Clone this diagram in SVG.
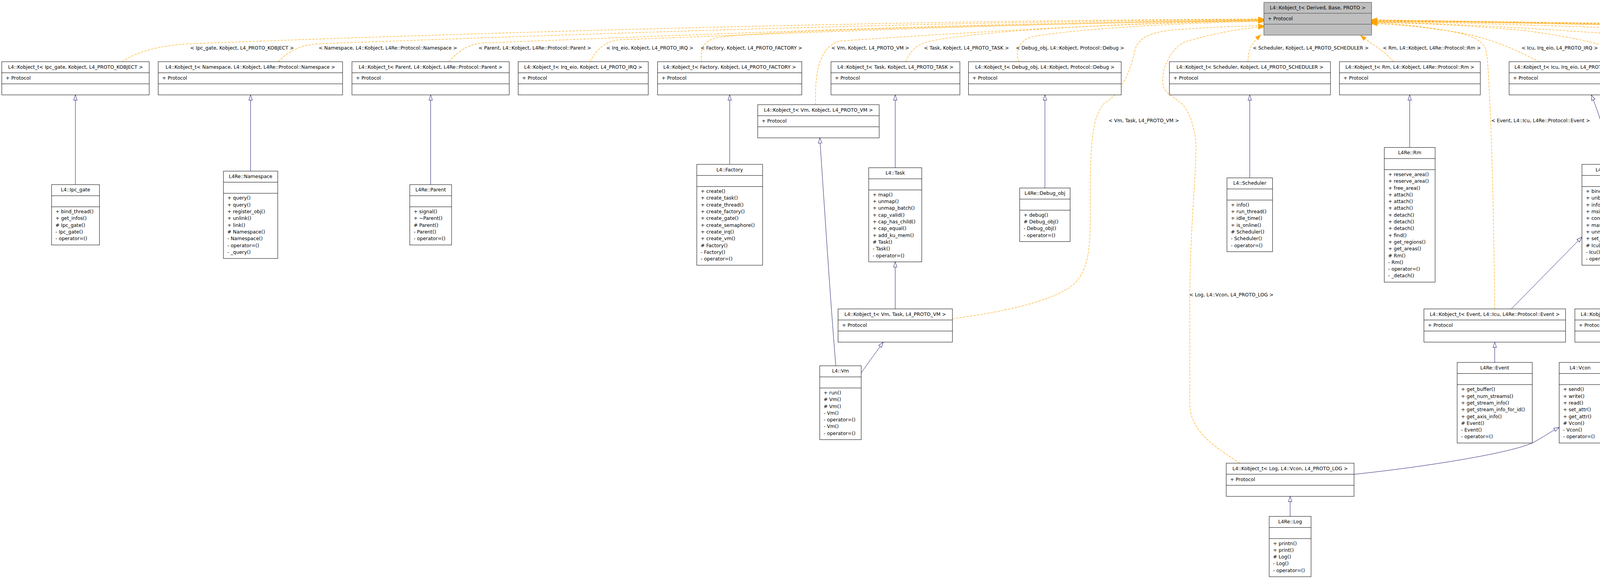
<svg xmlns="http://www.w3.org/2000/svg" width="7088" height="1480" viewBox="0 0 7088 1480">
<defs>
<style>
text{font-family:"DejaVu Sans","Liberation Sans",sans-serif;font-size:12.35px;fill:#000}
.c{text-anchor:middle}
.n rect{fill:#fff;stroke:#000;stroke-width:1}
.n path{fill:none;stroke:#000;stroke-width:1}
#root rect{fill:#bfbfbf;stroke:#404040}
#root path{stroke:#404040}
.i{fill:none;stroke:#191970;stroke-width:1;marker-end:url(#ah)}
.d{fill:none;stroke:#ffa500;stroke-width:1.1;stroke-dasharray:6,3;marker-end:url(#ao)}
</style>
<marker id="ah" markerWidth="16" markerHeight="12" refX="14" refY="5.5" orient="auto" markerUnits="userSpaceOnUse" overflow="visible"><path d="M0.5,1 L14,5.5 L0.5,10 Z" fill="#fff" stroke="#191970" stroke-width="1"/></marker>
<marker id="ao" markerWidth="16" markerHeight="12" refX="14" refY="5.5" orient="auto" markerUnits="userSpaceOnUse" overflow="visible"><path d="M0,0.5 L14,5.5 L0,10.5 Z" fill="#ffa500" stroke="#ffa500" stroke-width="1"/></marker>
</defs>
<rect width="7088" height="1480" fill="#fff"/>
<g id="connectors">
<path class="i" d="M193,472.75 L193,243"/>
<path class="i" d="M641.5,438.15 L641.5,243"/>
<path class="i" d="M1102.5,472.75 L1102.5,243"/>
<path class="i" d="M1868,420.85 L1868,243"/>
<path class="i" d="M2291.8,429.5 L2291.8,243"/>
<path class="i" d="M2675,481.4 L2675,243"/>
<path class="i" d="M3199.4,455.45 L3199.4,243"/>
<path class="i" d="M3608.8,377.6 L3608.8,243"/>
<path class="i" d="M4115.9,420.85 C4115,370 4105,320 4073.8,243"/>
<path class="i" d="M4356.2,464.1 L4356.2,243"/>
<path class="i" d="M4774.25,386.25 L4774.25,243"/>
<path class="i" d="M5229.1,455.45 L5229.1,243"/>
<path class="i" d="M5682.2,472.75 L5682.2,243"/>
<path class="i" d="M6116.1,394.9 L6116.1,243"/>
<path class="i" d="M6473.9,429.5 L6473.9,243"/>
<path class="i" d="M6891,420.85 L6891,243"/>
<path class="i" d="M2139.7,936.65 C2125,760 2110,520 2098.6,353"/>
<path class="i" d="M2291.8,791 L2291.8,670.5"/>
<path class="i" d="M2204.7,954.6 L2261,876"/>
<path class="i" d="M3869,791 L4049.8,606.8"/>
<path class="i" d="M4169.4,791 L4142.6,679.2"/>
<path class="i" d="M3826.5,928 L3826.5,876"/>
<path class="i" d="M4098.6,952.7 L4152.2,876"/>
<path class="i" d="M3466.3,1214.6 C3650,1195 3870,1160 3925,1133 C3950,1120 3970,1105 3991.5,1094.5"/>
<path class="i" d="M3302.7,1322.25 L3302.7,1271"/>

<path class="d" d="M313,158 C350,132 410,116 488,112 C1037,91 2136,53 3235.5,48.5"/>
<path class="d" d="M712,158 C740,130 770,115 815,112 C1300,95 2300,55 3235.5,49.5"/>
<path class="d" d="M1149,158 C1175,130 1195,115 1235,110 C1650,95 2450,58 3235.5,50.5"/>
<path class="d" d="M1510.7,158 C1525,130 1545,108 1582,102 C1950,88 2650,58 3235.5,51.5"/>
<path class="d" d="M1796,158 C1792,125 1800,103 1840,96 C1950,78 2600,62 3235.5,52.5"/>
<path class="d" d="M2088,268 C2085,180 2100,118 2150,105 C2350,92 2800,60 3235.5,53"/>
<path class="d" d="M2319,158 C2330,128 2350,112 2380,106 C2480,82 2850,58 3235.5,53.5"/>
<path class="d" d="M2609.5,158 C2598,140 2605,105 2640,95 C2700,82 2900,62 3235.5,54.5"/>
<path class="d" d="M2438.2,816 C2560,800 2680,775 2740,735 C2800,690 2790,600 2791,480 C2792,380 2795,290 2830,262 C2870,240 2895,180 2905,130 C2912,100 2940,85 2990,78 C3080,70 3160,67 3235.5,66"/>
<path class="d" d="M3173.5,1186 C3120,1150 3050,1110 3046,1040 L3046,760 C3046,600 3062,450 3061.6,378 C3061,320 3040,280 3025,265 C3000,245 2978,235 2977,215 C2976,190 2980,170 2987,160 C3000,130 3020,110 3044,104 C3110,85 3180,72 3235.5,69"/>
<path class="d" d="M3194.6,158 C3196,130 3200,115 3227.5,89"/>
<path class="d" d="M3566.7,158 C3545,130 3510,112 3483,91"/>
<path class="d" d="M3826.5,791 C3825,650 3822,450 3815,283 C3810,180 3808,130 3800,118 C3785,98 3760,88 3700,78 C3620,66 3560,62 3511.3,60.5"/>
<path class="d" d="M3940,158 C3900,138 3850,110 3760,88 C3650,68 3580,60 3511.3,58.5"/>
<path class="d" d="M4238.7,158 C4180,138 4080,100 3900,78 C3750,64 3600,58 3511.3,57.5"/>
<path class="d" d="M4612,158 C4570,145 4480,118 4392,108 C4100,82 3750,60 3511.3,56.5"/>
<path class="d" d="M5077.5,158 C5000,140 4880,108 4760,100 C4300,75 3800,58 3511.3,55.5"/>
<path class="d" d="M5508.7,158 C5420,135 5300,100 5150,92 C4500,70 3900,56 3511.3,54.5"/>
<path class="d" d="M5956.5,158 C5900,140 5780,116 5700,110 C5300,90 4200,62 3511.3,53.5"/>
<path class="d" d="M6319.5,158 C6270,135 6180,118 6100,110 C5800,92 4400,64 3511.3,52.5"/>
<path class="d" d="M6801.8,158 C6770,140 6720,118 6673,110 C6620,103 6500,95 6320,93 C5800,85 4400,62 3511.3,51.5"/>
<path class="d" d="M4329.9,830 C4900,815 5500,800 6066,784.5 C6300,770 6480,745 6525.5,728 C6560,712 6575,690 6583,662 C6610,600 6628,560 6631,520 C6640,420 6650,330 6650,284 C6650,220 6645,170 6630,150 C6615,128 6600,116 6570,112 C6540,109 6500,114 6452,115 C6420,115 6350,108 6231,100 C5600,85 4300,62 3511.3,50.5"/>

<text x="487" y="127">&lt; Ipc_gate, Kobject, L4_PROTO_KOBJECT &gt;</text>
<text x="815.7" y="127">&lt; Namespace, L4::Kobject, L4Re::Protocol::Namespace &gt;</text>
<text x="1225" y="127">&lt; Parent, L4::Kobject, L4Re::Protocol::Parent &gt;</text>
<text x="1552.3" y="127">&lt; Irq_eio, Kobject, L4_PROTO_IRQ &gt;</text>
<text x="1793.4" y="127">&lt; Factory, Kobject, L4_PROTO_FACTORY &gt;</text>
<text x="2128.2" y="127">&lt; Vm, Kobject, L4_PROTO_VM &gt;</text>
<text x="2365.5" y="127">&lt; Task, Kobject, L4_PROTO_TASK &gt;</text>
<text x="2600.8" y="127">&lt; Debug_obj, L4::Kobject, Protocol::Debug &gt;</text>
<text x="3207" y="127">&lt; Scheduler, Kobject, L4_PROTO_SCHEDULER &gt;</text>
<text x="3540" y="127">&lt; Rm, L4::Kobject, L4Re::Protocol::Rm &gt;</text>
<text x="3895" y="127">&lt; Icu, Irq_eio, L4_PROTO_IRQ &gt;</text>
<text x="4171" y="127">&lt; Meta, Kobject, L4_PROTO_META &gt;</text>
<text x="4511.6" y="127">&lt; Dataspace, L4::Kobject, L4Re::Protocol::Dataspace &gt;</text>
<text x="4970.8" y="127">&lt; Debugger, Kobject, L4_PROTO_DEBUGGER &gt;</text>
<text x="5390.8" y="127">&lt; Mem_alloc, L4::Kobject, L4Re::Protocol::Mem_alloc &gt;</text>
<text x="5851" y="127">&lt; Thread, Kobject, L4_PROTO_THREAD &gt;</text>
<text x="6224.2" y="127">&lt; Irq, Irq_eio, L4_PROTO_IRQ &gt;</text>
<text x="6738.9" y="127">&lt; Goos, L4::Kobject, L4Re::Protocol::Goos &gt;</text>
<text x="2837.8" y="313">&lt; Vm, Task, L4_PROTO_VM &gt;</text>
<text x="3817.4" y="313">&lt; Event, L4::Icu, L4Re::Protocol::Event &gt;</text>
<text x="6649.9" y="313">&lt; Vcon, Icu, L4_PROTO_LOG &gt;</text>
<text x="3044.4" y="759">&lt; Log, L4::Vcon, L4_PROTO_LOG &gt;</text>
</g>

<g id="root" class="n"><rect x="3235.5" y="6" width="275.8" height="84"/><path d="M3235.5,34H3511.3M3235.5,62H3511.3"/><text class="c" x="3373.4" y="23.5">L4::Kobject_t&lt; Derived, Base, PROTO &gt;</text><text x="3245.5" y="51.7">+ Protocol</text></g>

<g id="t_ipc" class="n"><rect x="4.6" y="158" width="377.4" height="85"/><path d="M4.6,186.33H382M4.6,214.67H382"/><text class="c" x="193.3" y="175.5">L4::Kobject_t&lt; Ipc_gate, Kobject, L4_PROTO_KOBJECT &gt;</text><text x="14.6" y="204">+ Protocol</text></g>
<g id="t_ns" class="n"><rect x="405" y="158" width="472" height="85"/><path d="M405,186.33H877M405,214.67H877"/><text class="c" x="641" y="175.5">L4::Kobject_t&lt; Namespace, L4::Kobject, L4Re::Protocol::Namespace &gt;</text><text x="415" y="204">+ Protocol</text></g>
<g id="t_parent" class="n"><rect x="901" y="158" width="402.6" height="85"/><path d="M901,186.33H1303.6M901,214.67H1303.6"/><text class="c" x="1102.3" y="175.5">L4::Kobject_t&lt; Parent, L4::Kobject, L4Re::Protocol::Parent &gt;</text><text x="911" y="204">+ Protocol</text></g>
<g id="t_irqeio" class="n"><rect x="1326.5" y="158" width="333" height="85"/><path d="M1326.5,186.33H1659.5M1326.5,214.67H1659.5"/><text class="c" x="1493" y="175.5">L4::Kobject_t&lt; Irq_eio, Kobject, L4_PROTO_IRQ &gt;</text><text x="1336.5" y="204">+ Protocol</text></g>
<g id="t_factory" class="n"><rect x="1683.4" y="158" width="369.2" height="85"/><path d="M1683.4,186.33H2052.6M1683.4,214.67H2052.6"/><text class="c" x="1868" y="175.5">L4::Kobject_t&lt; Factory, Kobject, L4_PROTO_FACTORY &gt;</text><text x="1693.4" y="204">+ Protocol</text></g>
<g id="t_task" class="n"><rect x="2127.3" y="158" width="330" height="85"/><path d="M2127.3,186.33H2457.3M2127.3,214.67H2457.3"/><text class="c" x="2292.3" y="175.5">L4::Kobject_t&lt; Task, Kobject, L4_PROTO_TASK &gt;</text><text x="2137.3" y="204">+ Protocol</text></g>
<g id="t_debug" class="n"><rect x="2479.3" y="158" width="391" height="85"/><path d="M2479.3,186.33H2870.3M2479.3,214.67H2870.3"/><text class="c" x="2674.8" y="175.5">L4::Kobject_t&lt; Debug_obj, L4::Kobject, Protocol::Debug &gt;</text><text x="2489.3" y="204">+ Protocol</text></g>
<g id="t_sched" class="n"><rect x="2993.7" y="158" width="412.3" height="85"/><path d="M2993.7,186.33H3406M2993.7,214.67H3406"/><text class="c" x="3199.9" y="175.5">L4::Kobject_t&lt; Scheduler, Kobject, L4_PROTO_SCHEDULER &gt;</text><text x="3003.7" y="204">+ Protocol</text></g>
<g id="t_rm" class="n"><rect x="3429" y="158" width="360.6" height="85"/><path d="M3429,186.33H3789.6M3429,214.67H3789.6"/><text class="c" x="3609.3" y="175.5">L4::Kobject_t&lt; Rm, L4::Kobject, L4Re::Protocol::Rm &gt;</text><text x="3439" y="204">+ Protocol</text></g>
<g id="t_icu" class="n"><rect x="3863.3" y="158" width="302.3" height="85"/><path d="M3863.3,186.33H4165.6M3863.3,214.67H4165.6"/><text class="c" x="4014.5" y="175.5">L4::Kobject_t&lt; Icu, Irq_eio, L4_PROTO_IRQ &gt;</text><text x="3873.3" y="204">+ Protocol</text></g>
<g id="t_meta" class="n"><rect x="4188.3" y="158" width="334.8" height="85"/><path d="M4188.3,186.33H4523.1M4188.3,214.67H4523.1"/><text class="c" x="4355.7" y="175.5">L4::Kobject_t&lt; Meta, Kobject, L4_PROTO_META &gt;</text><text x="4198.3" y="204">+ Protocol</text></g>
<g id="t_ds" class="n"><rect x="4546" y="158" width="457.3" height="85"/><path d="M4546,186.33H5003.3M4546,214.67H5003.3"/><text class="c" x="4774.7" y="175.5">L4::Kobject_t&lt; Dataspace, L4::Kobject, L4Re::Protocol::Dataspace &gt;</text><text x="4556" y="204">+ Protocol</text></g>
<g id="t_dbg" class="n"><rect x="5027.3" y="158" width="404.6" height="85"/><path d="M5027.3,186.33H5431.9M5027.3,214.67H5431.9"/><text class="c" x="5229.6" y="175.5">L4::Kobject_t&lt; Debugger, Kobject, L4_PROTO_DEBUGGER &gt;</text><text x="5037.3" y="204">+ Protocol</text></g>
<g id="t_mem" class="n"><rect x="5454.9" y="158" width="455.5" height="85"/><path d="M5454.9,186.33H5910.4M5454.9,214.67H5910.4"/><text class="c" x="5682.7" y="175.5">L4::Kobject_t&lt; Mem_alloc, L4::Kobject, L4Re::Protocol::Mem_alloc &gt;</text><text x="5464.9" y="204">+ Protocol</text></g>
<g id="t_thread" class="n"><rect x="5933.4" y="158" width="364.4" height="85"/><path d="M5933.4,186.33H6297.8M5933.4,214.67H6297.8"/><text class="c" x="6115.6" y="175.5">L4::Kobject_t&lt; Thread, Kobject, L4_PROTO_THREAD &gt;</text><text x="5943.4" y="204">+ Protocol</text></g>
<g id="t_irq" class="n"><rect x="6322.7" y="158" width="301.3" height="85"/><path d="M6322.7,186.33H6624M6322.7,214.67H6624"/><text class="c" x="6473.4" y="175.5">L4::Kobject_t&lt; Irq, Irq_eio, L4_PROTO_IRQ &gt;</text><text x="6332.7" y="204">+ Protocol</text></g>
<g id="t_goos" class="n"><rect x="6697.7" y="158" width="385.6" height="85"/><path d="M6697.7,186.33H7083.3M6697.7,214.67H7083.3"/><text class="c" x="6890.5" y="175.5">L4::Kobject_t&lt; Goos, L4::Kobject, L4Re::Protocol::Goos &gt;</text><text x="6707.7" y="204">+ Protocol</text></g>
<g id="t_vm" class="n"><rect x="1939.8" y="268" width="310.9" height="85"/><path d="M1939.8,296.33H2250.7M1939.8,324.67H2250.7"/><text class="c" x="2095.25" y="285.5">L4::Kobject_t&lt; Vm, Kobject, L4_PROTO_VM &gt;</text><text x="1949.8" y="314">+ Protocol</text></g>
<g id="t_vmtask" class="n"><rect x="2145.4" y="791" width="292.8" height="85"/><path d="M2145.4,819.33H2438.2M2145.4,847.67H2438.2"/><text class="c" x="2291.8" y="808.5">L4::Kobject_t&lt; Vm, Task, L4_PROTO_VM &gt;</text><text x="2155.4" y="837">+ Protocol</text></g>
<g id="t_event" class="n"><rect x="3645.2" y="791" width="362.6" height="85"/><path d="M3645.2,819.33H4007.8M3645.2,847.67H4007.8"/><text class="c" x="3826.5" y="808.5">L4::Kobject_t&lt; Event, L4::Icu, L4Re::Protocol::Event &gt;</text><text x="3655.2" y="837">+ Protocol</text></g>
<g id="t_vcon" class="n"><rect x="4031.7" y="791" width="298.2" height="85"/><path d="M4031.7,819.33H4329.9M4031.7,847.67H4329.9"/><text class="c" x="4180.8" y="808.5">L4::Kobject_t&lt; Vcon, Icu, L4_PROTO_LOG &gt;</text><text x="4041.7" y="837">+ Protocol</text></g>
<g id="t_log" class="n"><rect x="3139.1" y="1186" width="327.2" height="85"/><path d="M3139.1,1214.33H3466.3M3139.1,1242.67H3466.3"/><text class="c" x="3302.7" y="1203.5">L4::Kobject_t&lt; Log, L4::Vcon, L4_PROTO_LOG &gt;</text><text x="3149.1" y="1232">+ Protocol</text></g>

<g id="ipc_gate" class="n"><rect x="132" y="472.75" width="122.6" height="154.5"/><path d="M132,501.15H254.6M132,529.55H254.6"/><text class="c" x="193.3" y="490.45">L4::Ipc_gate</text><text x="142" y="546.05">+ bind_thread()<tspan x="142" dy="17.3">+ get_infos()</tspan><tspan x="142" dy="17.3"># Ipc_gate()</tspan><tspan x="142" dy="17.3">- Ipc_gate()</tspan><tspan x="142" dy="17.3">- operator=()</tspan></text></g>
<g id="namespace" class="n"><rect x="572" y="438.15" width="139" height="223.7"/><path d="M572,466.55H711M572,494.95H711"/><text class="c" x="641.5" y="455.85">L4Re::Namespace</text><text x="582" y="511.45">+ query()<tspan x="582" dy="17.3">+ query()</tspan><tspan x="582" dy="17.3">+ register_obj()</tspan><tspan x="582" dy="17.3">+ unlink()</tspan><tspan x="582" dy="17.3">+ link()</tspan><tspan x="582" dy="17.3"># Namespace()</tspan><tspan x="582" dy="17.3">- Namespace()</tspan><tspan x="582" dy="17.3">- operator=()</tspan><tspan x="582" dy="17.3">- _query()</tspan></text></g>
<g id="parent" class="n"><rect x="1049" y="472.75" width="107" height="154.5"/><path d="M1049,501.15H1156M1049,529.55H1156"/><text class="c" x="1102.5" y="490.45">L4Re::Parent</text><text x="1059" y="546.05">+ signal()<tspan x="1059" dy="17.3">+ ~Parent()</tspan><tspan x="1059" dy="17.3"># Parent()</tspan><tspan x="1059" dy="17.3">- Parent()</tspan><tspan x="1059" dy="17.3">- operator=()</tspan></text></g>
<g id="factory" class="n"><rect x="1783.8" y="420.85" width="168.4" height="258.3"/><path d="M1783.8,449.25H1952.2M1783.8,477.65H1952.2"/><text class="c" x="1868" y="438.55">L4::Factory</text><text x="1793.8" y="494.15">+ create()<tspan x="1793.8" dy="17.3">+ create_task()</tspan><tspan x="1793.8" dy="17.3">+ create_thread()</tspan><tspan x="1793.8" dy="17.3">+ create_factory()</tspan><tspan x="1793.8" dy="17.3">+ create_gate()</tspan><tspan x="1793.8" dy="17.3">+ create_semaphore()</tspan><tspan x="1793.8" dy="17.3">+ create_irq()</tspan><tspan x="1793.8" dy="17.3">+ create_vm()</tspan><tspan x="1793.8" dy="17.3"># Factory()</tspan><tspan x="1793.8" dy="17.3">- Factory()</tspan><tspan x="1793.8" dy="17.3">- operator=()</tspan></text></g>
<g id="task" class="n"><rect x="2223.9" y="429.5" width="135.8" height="241"/><path d="M2223.9,457.9H2359.7M2223.9,486.3H2359.7"/><text class="c" x="2291.8" y="447.2">L4::Task</text><text x="2233.9" y="502.8">+ map()<tspan x="2233.9" dy="17.3">+ unmap()</tspan><tspan x="2233.9" dy="17.3">+ unmap_batch()</tspan><tspan x="2233.9" dy="17.3">+ cap_valid()</tspan><tspan x="2233.9" dy="17.3">+ cap_has_child()</tspan><tspan x="2233.9" dy="17.3">+ cap_equal()</tspan><tspan x="2233.9" dy="17.3">+ add_ku_mem()</tspan><tspan x="2233.9" dy="17.3"># Task()</tspan><tspan x="2233.9" dy="17.3">- Task()</tspan><tspan x="2233.9" dy="17.3">- operator=()</tspan></text></g>
<g id="debug_obj" class="n"><rect x="2610.4" y="481.4" width="129.1" height="137.2"/><path d="M2610.4,509.8H2739.5M2610.4,538.2H2739.5"/><text class="c" x="2674.95" y="499.1">L4Re::Debug_obj</text><text x="2620.4" y="554.7">+ debug()<tspan x="2620.4" dy="17.3"># Debug_obj()</tspan><tspan x="2620.4" dy="17.3">- Debug_obj()</tspan><tspan x="2620.4" dy="17.3">- operator=()</tspan></text></g>
<g id="scheduler" class="n"><rect x="3141" y="455.45" width="116.7" height="189.1"/><path d="M3141,483.85H3257.7M3141,512.25H3257.7"/><text class="c" x="3199.35" y="473.15">L4::Scheduler</text><text x="3151" y="528.75">+ info()<tspan x="3151" dy="17.3">+ run_thread()</tspan><tspan x="3151" dy="17.3">+ idle_time()</tspan><tspan x="3151" dy="17.3">+ is_online()</tspan><tspan x="3151" dy="17.3"># Scheduler()</tspan><tspan x="3151" dy="17.3">- Scheduler()</tspan><tspan x="3151" dy="17.3">- operator=()</tspan></text></g>
<g id="rm" class="n"><rect x="3543.8" y="377.6" width="130.1" height="344.8"/><path d="M3543.8,406H3673.9M3543.8,434.4H3673.9"/><text class="c" x="3608.85" y="395.3">L4Re::Rm</text><text x="3553.8" y="450.9">+ reserve_area()<tspan x="3553.8" dy="17.3">+ reserve_area()</tspan><tspan x="3553.8" dy="17.3">+ free_area()</tspan><tspan x="3553.8" dy="17.3">+ attach()</tspan><tspan x="3553.8" dy="17.3">+ attach()</tspan><tspan x="3553.8" dy="17.3">+ attach()</tspan><tspan x="3553.8" dy="17.3">+ detach()</tspan><tspan x="3553.8" dy="17.3">+ detach()</tspan><tspan x="3553.8" dy="17.3">+ detach()</tspan><tspan x="3553.8" dy="17.3">+ find()</tspan><tspan x="3553.8" dy="17.3">+ get_regions()</tspan><tspan x="3553.8" dy="17.3">+ get_areas()</tspan><tspan x="3553.8" dy="17.3"># Rm()</tspan><tspan x="3553.8" dy="17.3">- Rm()</tspan><tspan x="3553.8" dy="17.3">- operator=()</tspan><tspan x="3553.8" dy="17.3">- _detach()</tspan></text></g>
<g id="icu" class="n"><rect x="4049.8" y="420.85" width="111" height="258.3"/><path d="M4049.8,449.25H4160.8M4049.8,477.65H4160.8"/><text class="c" x="4105.3" y="438.55">L4::Icu</text><text x="4059.8" y="494.15">+ bind()<tspan x="4059.8" dy="17.3">+ unbind()</tspan><tspan x="4059.8" dy="17.3">+ info()</tspan><tspan x="4059.8" dy="17.3">+ msi_info()</tspan><tspan x="4059.8" dy="17.3">+ control()</tspan><tspan x="4059.8" dy="17.3">+ mask()</tspan><tspan x="4059.8" dy="17.3">+ unmask()</tspan><tspan x="4059.8" dy="17.3">+ set_mode()</tspan><tspan x="4059.8" dy="17.3"># Icu()</tspan><tspan x="4059.8" dy="17.3">- Icu()</tspan><tspan x="4059.8" dy="17.3">- operator=()</tspan></text></g>
<g id="meta" class="n"><rect x="4283" y="464.1" width="146.3" height="171.8"/><path d="M4283,492.5H4429.3M4283,520.9H4429.3"/><text class="c" x="4356.15" y="481.8">L4::Meta</text><text x="4293" y="537.4">+ num_interfaces()<tspan x="4293" dy="17.3">+ interface()</tspan><tspan x="4293" dy="17.3">+ supports()</tspan><tspan x="4293" dy="17.3"># Meta()</tspan><tspan x="4293" dy="17.3">- Meta()</tspan><tspan x="4293" dy="17.3">- operator=()</tspan></text></g>
<g id="dataspace" class="n"><rect x="4708.7" y="386.25" width="131.1" height="327.5"/><path d="M4708.7,414.65H4839.8M4708.7,443.05H4839.8"/><text class="c" x="4774.25" y="403.95">L4Re::Dataspace</text><text x="4718.7" y="459.55">+ map()<tspan x="4718.7" dy="17.3">+ map_region()</tspan><tspan x="4718.7" dy="17.3">+ clear()</tspan><tspan x="4718.7" dy="17.3">+ allocate()</tspan><tspan x="4718.7" dy="17.3">+ copy_in()</tspan><tspan x="4718.7" dy="17.3">+ phys()</tspan><tspan x="4718.7" dy="17.3">+ size()</tspan><tspan x="4718.7" dy="17.3">+ flags()</tspan><tspan x="4718.7" dy="17.3">+ info()</tspan><tspan x="4718.7" dy="17.3">+ take()</tspan><tspan x="4718.7" dy="17.3">+ release()</tspan><tspan x="4718.7" dy="17.3"># Dataspace()</tspan><tspan x="4718.7" dy="17.3">- Dataspace()</tspan><tspan x="4718.7" dy="17.3">- operator=()</tspan><tspan x="4718.7" dy="17.3">- __map()</tspan></text></g>
<g id="debugger" class="n"><rect x="5149.7" y="455.45" width="158.8" height="189.1"/><path d="M5149.7,483.85H5308.5M5149.7,512.25H5308.5"/><text class="c" x="5229.1" y="473.15">L4::Debugger</text><text x="5159.7" y="528.75">+ set_object_name()<tspan x="5159.7" dy="17.3">+ global_id()</tspan><tspan x="5159.7" dy="17.3">+ kobj_to_id()</tspan><tspan x="5159.7" dy="17.3">+ query_log_typeid()</tspan><tspan x="5159.7" dy="17.3">+ query_log_name()</tspan><tspan x="5159.7" dy="17.3">+ switch_log()</tspan><tspan x="5159.7" dy="17.3">+ get_object_name()</tspan></text></g>
<g id="mem_alloc" class="n"><rect x="5617.7" y="472.75" width="129.1" height="154.5"/><path d="M5617.7,501.15H5746.8M5617.7,529.55H5746.8"/><text class="c" x="5682.25" y="490.45">L4Re::Mem_alloc</text><text x="5627.7" y="546.05">+ alloc()<tspan x="5627.7" dy="17.3">+ free()</tspan><tspan x="5627.7" dy="17.3"># Mem_alloc()</tspan><tspan x="5627.7" dy="17.3">- Mem_alloc()</tspan><tspan x="5627.7" dy="17.3">- operator=()</tspan></text></g>
<g id="thread" class="n"><rect x="6021.4" y="394.9" width="189.4" height="310.2"/><path d="M6021.4,423.3H6210.8M6021.4,451.7H6210.8"/><text class="c" x="6116.1" y="412.6">L4::Thread</text><text x="6031.4" y="468.2">+ ex_regs()<tspan x="6031.4" dy="17.3">+ ex_regs()</tspan><tspan x="6031.4" dy="17.3">+ control()</tspan><tspan x="6031.4" dy="17.3">+ switch_to()</tspan><tspan x="6031.4" dy="17.3">+ stats_time()</tspan><tspan x="6031.4" dy="17.3">+ vcpu_resume_start()</tspan><tspan x="6031.4" dy="17.3">+ vcpu_resume_commit()</tspan><tspan x="6031.4" dy="17.3">+ vcpu_control()</tspan><tspan x="6031.4" dy="17.3">+ vcpu_control_ext()</tspan><tspan x="6031.4" dy="17.3">+ register_del_irq()</tspan><tspan x="6031.4" dy="17.3">+ modify_senders()</tspan><tspan x="6031.4" dy="17.3"># Thread()</tspan><tspan x="6031.4" dy="17.3">- Thread()</tspan><tspan x="6031.4" dy="17.3">- operator=()</tspan></text></g>
<g id="irq" class="n"><rect x="6420.3" y="429.5" width="107.1" height="241"/><path d="M6420.3,457.9H6527.4M6420.3,486.3H6527.4"/><text class="c" x="6473.85" y="447.2">L4::Irq</text><text x="6430.3" y="502.8">+ attach()<tspan x="6430.3" dy="17.3">+ chain()</tspan><tspan x="6430.3" dy="17.3">+ detach()</tspan><tspan x="6430.3" dy="17.3">+ receive()</tspan><tspan x="6430.3" dy="17.3">+ wait()</tspan><tspan x="6430.3" dy="17.3">+ unmask()</tspan><tspan x="6430.3" dy="17.3">+ trigger()</tspan><tspan x="6430.3" dy="17.3"># Irq()</tspan><tspan x="6430.3" dy="17.3">- Irq()</tspan><tspan x="6430.3" dy="17.3">- operator=()</tspan></text></g>
<g id="goos" class="n"><rect x="6813.5" y="420.85" width="155" height="258.3"/><path d="M6813.5,449.25H6968.5M6813.5,477.65H6968.5"/><text class="c" x="6891" y="438.55">L4Re::Video::Goos</text><text x="6823.5" y="494.15">+ info()<tspan x="6823.5" dy="17.3">+ get_static_buffer()</tspan><tspan x="6823.5" dy="17.3">+ create_buffer()</tspan><tspan x="6823.5" dy="17.3">+ delete_buffer()</tspan><tspan x="6823.5" dy="17.3">+ create_view()</tspan><tspan x="6823.5" dy="17.3">+ delete_view()</tspan><tspan x="6823.5" dy="17.3">+ view()</tspan><tspan x="6823.5" dy="17.3">+ refresh()</tspan><tspan x="6823.5" dy="17.3"># Goos()</tspan><tspan x="6823.5" dy="17.3">- Goos()</tspan><tspan x="6823.5" dy="17.3">- operator=()</tspan></text></g>
<g id="vm" class="n"><rect x="2098.6" y="936.65" width="106.1" height="189.1"/><path d="M2098.6,965.05H2204.7M2098.6,993.45H2204.7"/><text class="c" x="2151.65" y="954.35">L4::Vm</text><text x="2108.6" y="1009.95">+ run()<tspan x="2108.6" dy="17.3"># Vm()</tspan><tspan x="2108.6" dy="17.3"># Vm()</tspan><tspan x="2108.6" dy="17.3">- Vm()</tspan><tspan x="2108.6" dy="17.3">- operator=()</tspan><tspan x="2108.6" dy="17.3">- Vm()</tspan><tspan x="2108.6" dy="17.3">- operator=()</tspan></text></g>
<g id="event" class="n"><rect x="3730.3" y="928" width="192.3" height="206.4"/><path d="M3730.3,956.4H3922.6M3730.3,984.8H3922.6"/><text class="c" x="3826.45" y="945.7">L4Re::Event</text><text x="3740.3" y="1001.3">+ get_buffer()<tspan x="3740.3" dy="17.3">+ get_num_streams()</tspan><tspan x="3740.3" dy="17.3">+ get_stream_info()</tspan><tspan x="3740.3" dy="17.3">+ get_stream_info_for_id()</tspan><tspan x="3740.3" dy="17.3">+ get_axis_info()</tspan><tspan x="3740.3" dy="17.3"># Event()</tspan><tspan x="3740.3" dy="17.3">- Event()</tspan><tspan x="3740.3" dy="17.3">- operator=()</tspan></text></g>
<g id="vcon" class="n"><rect x="3991.5" y="928" width="107.1" height="206.4"/><path d="M3991.5,956.4H4098.6M3991.5,984.8H4098.6"/><text class="c" x="4045.05" y="945.7">L4::Vcon</text><text x="4001.5" y="1001.3">+ send()<tspan x="4001.5" dy="17.3">+ write()</tspan><tspan x="4001.5" dy="17.3">+ read()</tspan><tspan x="4001.5" dy="17.3">+ set_attr()</tspan><tspan x="4001.5" dy="17.3">+ get_attr()</tspan><tspan x="4001.5" dy="17.3"># Vcon()</tspan><tspan x="4001.5" dy="17.3">- Vcon()</tspan><tspan x="4001.5" dy="17.3">- operator=()</tspan></text></g>
<g id="log" class="n"><rect x="3249.1" y="1322.25" width="107.2" height="154.5"/><path d="M3249.1,1350.65H3356.3M3249.1,1379.05H3356.3"/><text class="c" x="3302.7" y="1339.95">L4Re::Log</text><text x="3259.1" y="1395.55">+ printn()<tspan x="3259.1" dy="17.3">+ print()</tspan><tspan x="3259.1" dy="17.3"># Log()</tspan><tspan x="3259.1" dy="17.3">- Log()</tspan><tspan x="3259.1" dy="17.3">- operator=()</tspan></text></g>
</svg>
